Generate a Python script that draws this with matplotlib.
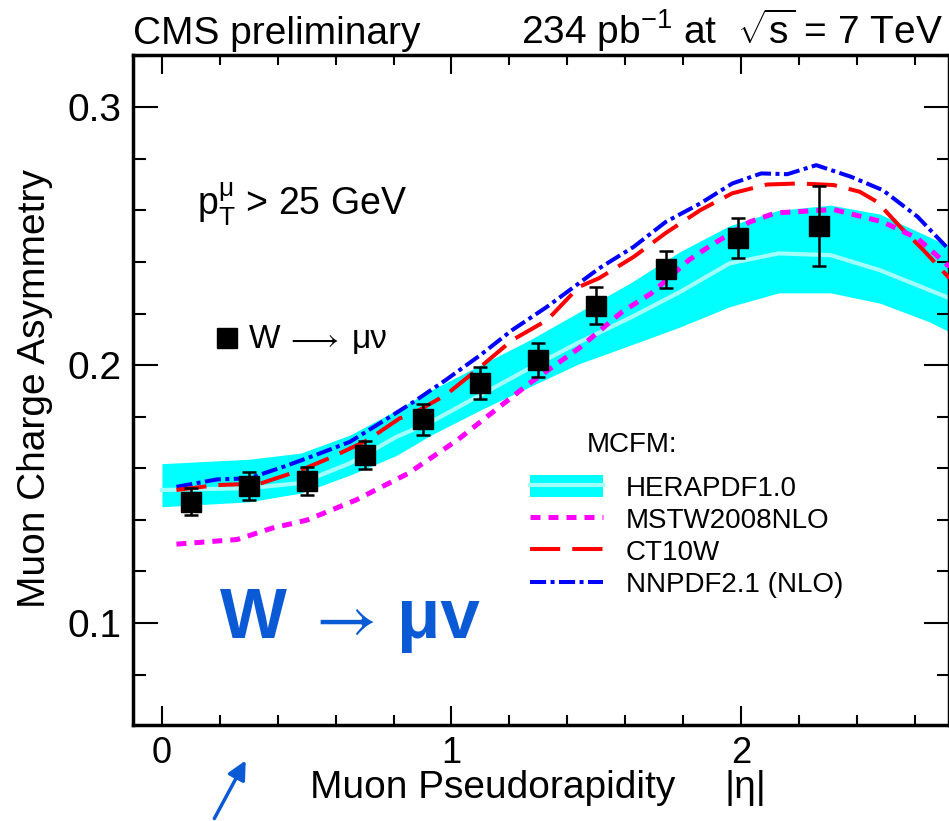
import matplotlib
matplotlib.use("Agg")
import matplotlib.pyplot as plt
from matplotlib.patches import Patch
from matplotlib.lines import Line2D
from matplotlib.legend_handler import HandlerTuple
from matplotlib.ticker import MultipleLocator

plt.rcParams["font.family"] = ["Liberation Sans", "DejaVu Sans"]
plt.rcParams["mathtext.fontset"] = "custom"
plt.rcParams["mathtext.rm"] = "Liberation Sans"
plt.rcParams["mathtext.it"] = "Liberation Sans:italic"
plt.rcParams["mathtext.bf"] = "Liberation Sans:bold"

# ---------------------------------------------------------
# measured muon charge asymmetry (W -> mu nu)
# ---------------------------------------------------------
eta_data = [0.1, 0.3, 0.5, 0.7, 0.9, 1.1, 1.3, 1.5, 1.74, 1.99, 2.27]
asym_data = [0.1470, 0.1531, 0.1550, 0.1651, 0.1790, 0.1929, 0.2019,
             0.2230, 0.2372, 0.2492, 0.2540]
asym_err = [0.0052, 0.0055, 0.0054, 0.0055, 0.0059, 0.0062, 0.0066,
            0.0072, 0.0072, 0.0077, 0.0154]

# ---------------------------------------------------------
# MCFM predictions
# ---------------------------------------------------------
hera_eta = [0.0, 0.3, 0.48, 0.65, 0.81, 0.93, 1.1, 1.27, 1.44, 1.62,
            1.79, 1.96, 2.13, 2.31, 2.48, 2.65, 2.72]
hera_hi = [0.1618, 0.1635, 0.1659, 0.1729, 0.1825, 0.1903, 0.2000, 0.2097,
           0.2205, 0.2320, 0.2440, 0.2540, 0.2600, 0.2620, 0.2585, 0.2497, 0.2459]
hera_lo = [0.1451, 0.1470, 0.1504, 0.1574, 0.1650, 0.1729, 0.1826, 0.1916,
           0.2005, 0.2078, 0.2148, 0.2226, 0.2280, 0.2280, 0.2240, 0.2168, 0.2129]
hera_mid = [0.1516, 0.1523, 0.1543, 0.1620, 0.1722, 0.1780, 0.1884, 0.1988,
            0.2088, 0.2185, 0.2284, 0.2394, 0.2433, 0.2426, 0.2368, 0.2291, 0.2260]

mstw_eta = [0.05, 0.26, 0.38, 0.5, 0.67, 0.85, 1.02, 1.1, 1.27, 1.44, 1.59,
            1.69, 1.82, 1.89, 2.03, 2.12, 2.32, 2.49, 2.61, 2.72]
mstw = [0.1306, 0.1324, 0.1368, 0.1399, 0.1477, 0.1580, 0.1709, 0.1780,
        0.1930, 0.2065, 0.2207, 0.2278, 0.2407, 0.2460, 0.2555, 0.2590,
        0.2603, 0.2555, 0.2491, 0.2381]

ct10_eta = [0.05, 0.19, 0.34, 0.48, 0.59, 0.71, 0.82, 0.87, 0.98, 1.1, 1.21,
            1.33, 1.44, 1.51, 1.63, 1.74, 1.86, 1.97, 2.09, 2.2, 2.32, 2.41,
            2.47, 2.55, 2.63, 2.72]
ct10 = [0.1516, 0.1535, 0.1541, 0.1593, 0.1645, 0.1709, 0.1793, 0.1814,
        0.1884, 0.1993, 0.2097, 0.2174, 0.2303, 0.2337, 0.2420, 0.2512,
        0.2601, 0.2666, 0.2700, 0.2704, 0.2698, 0.2672, 0.2633, 0.2536,
        0.2446, 0.2337]

nnpdf_eta = [0.05, 0.19, 0.3, 0.42, 0.53, 0.65, 0.76, 0.87, 0.98, 1.1, 1.21,
             1.33, 1.44, 1.51, 1.63, 1.74, 1.86, 1.97, 2.07, 2.16, 2.26, 2.38,
             2.49, 2.61, 2.72]
nnpdf = [0.1528, 0.1557, 0.1561, 0.1606, 0.1651, 0.1703, 0.1780, 0.1858,
         0.1942, 0.2039, 0.2136, 0.2226, 0.2317, 0.2375, 0.2459, 0.2555,
         0.2627, 0.2704, 0.2743, 0.2740, 0.2775, 0.2730, 0.2678, 0.2575,
         0.2446]

labels = ["HERAPDF1.0", "MSTW2008NLO", "CT10W", "NNPDF2.1 (NLO)"]

CYAN = "#00ffff"
CYAN_LIGHT = "#a2fdfd"
MAGENTA = "#ff00ff"
RED = "#ff0000"
BLUE = "#0000ff"
TEXT_BLUE = "#0a5ad6"

# -----------------------------------
# FIGURE
# -----------------------------------
fig = plt.figure(figsize=(9.49, 8.21), dpi=100)
ax = fig.add_axes([133 / 949, 96 / 821, 816 / 949, 670 / 821])

ax.fill_between(hera_eta, hera_lo, hera_hi, color=CYAN, lw=0, zorder=1)
ax.plot(hera_eta, hera_mid, color=CYAN_LIGHT, lw=3, zorder=2)
ax.plot(nnpdf_eta, nnpdf, color=BLUE, lw=2.9, ls=(0, (4, 1.1, 1, 1.1)), zorder=3)
ax.plot(ct10_eta, ct10, color=RED, lw=2.9, ls=(0, (7.5, 3)), zorder=4)
ax.plot(mstw_eta, mstw, color=MAGENTA, lw=3.6, ls=(0, (2.0, 1.6)), zorder=5)

ax.errorbar(eta_data, asym_data, yerr=asym_err, fmt="s", color="black",
            ms=14.5, elinewidth=1.8, capsize=5, capthick=1.8, zorder=6)

ax.set_xlim(-0.1, 2.7185)
ax.set_ylim(0.0605, 0.3202)

ax.xaxis.set_major_locator(MultipleLocator(1))
ax.xaxis.set_minor_locator(MultipleLocator(0.2))
ax.yaxis.set_major_locator(MultipleLocator(0.1))
ax.yaxis.set_minor_locator(MultipleLocator(0.02))
ax.xaxis.set_major_formatter(plt.FuncFormatter(lambda v, p: f"{v:g}"))
ax.yaxis.set_major_formatter(plt.FuncFormatter(lambda v, p: f"{v:.1f}"))

ax.tick_params(which="both", direction="in", top=True, right=True, width=1.5)
ax.tick_params(axis="x", which="major", length=13.7, pad=8, labelsize=26)
ax.tick_params(axis="x", which="minor", length=7)
ax.tick_params(axis="y", which="major", length=18, pad=8, labelsize=28)
ax.tick_params(axis="y", which="minor", length=9)
for s in ax.spines.values():
    s.set_linewidth(2.5)

# axis titles
fig.text(35 / 949, 1 - 388 / 821, "Muon Charge Asymmetry", rotation=90,
         ha="center", va="center", fontsize=28)
fig.text(493 / 949, 1 - 798 / 821, "Muon Pseudorapidity", ha="center",
         va="baseline", fontsize=28)
fig.text(745 / 949, 1 - 798 / 821, "|η|", ha="center", va="baseline", fontsize=28)

# header
fig.text(133 / 949, 1 - 44 / 821, "CMS preliminary", ha="left",
         va="baseline", fontsize=28)
fig.text(943 / 949, 1 - 44 / 821, r"234 pb$^{-1}$ at  $\sqrt{\mathrm{s}}$ = 7 TeV",
         ha="right", va="baseline", fontsize=28)

# cut and data-marker key
ax.text(0.0784, 0.761, r"p$_{\mathrm{T}}^{\mathrm{μ}}$ > 25 GeV",
        transform=ax.transAxes, fontsize=27, va="baseline")
ax.plot([0.1146], [0.5769], "s", color="black", ms=15,
        transform=ax.transAxes, clip_on=False)
ax.text(0.1422, 0.5627, "W", transform=ax.transAxes, fontsize=24,
        va="baseline")
ax.text(0.187, 0.5627, r"$\longrightarrow$", transform=ax.transAxes,
        fontsize=22, va="baseline", math_fontfamily="stix")
ax.text(0.268, 0.5627, "μν", transform=ax.transAxes, fontsize=24,
        va="baseline")

# big channel label
ax.text(0.1066, 0.1299, "W", transform=ax.transAxes, fontsize=51,
        fontweight="bold", color=TEXT_BLUE, va="baseline")
ax.text(0.212, 0.1299, r"$\rightarrow$", transform=ax.transAxes, fontsize=48,
        color=TEXT_BLUE, va="baseline", math_fontfamily="stix")
ax.text(0.323, 0.1299, "μv", transform=ax.transAxes, fontsize=51,
        fontweight="bold", color=TEXT_BLUE, va="baseline")

ax.annotate("", xy=(247 / 949, 63 / 821), xytext=(213 / 949, 0),
            xycoords="figure fraction", textcoords="figure fraction",
            arrowprops=dict(arrowstyle="-|>", color=TEXT_BLUE, lw=2.5,
                            mutation_scale=28),
            annotation_clip=False)

# legend
ax.text((587 - 133) / 816, (725 - 445) / 670, "MCFM:", transform=ax.transAxes,
        fontsize=20, va="center")
hera_key = (Patch(facecolor=CYAN, edgecolor="none"),
            Line2D([], [], color=CYAN_LIGHT, lw=3))
handles = [hera_key,
           Line2D([], [], color=MAGENTA, lw=3.6, ls=(0, (2.0, 1.6))),
           Line2D([], [], color=RED, lw=2.9, ls=(0, (7.5, 3))),
           Line2D([], [], color=BLUE, lw=2.9, ls=(0, (4, 1.1, 1, 1.1)))]
ax.legend(handles, labels, handler_map={tuple: HandlerTuple(ndivide=1, pad=0)},
          loc="upper left", bbox_to_anchor=((530 - 133) / 816, (725 - 475) / 670),
          frameon=False, fontsize=20, handlelength=2.63, handleheight=0.83,
          handletextpad=0.83, labelspacing=0.2, borderpad=0, borderaxespad=0)

fig.savefig("out.png", dpi=100)
